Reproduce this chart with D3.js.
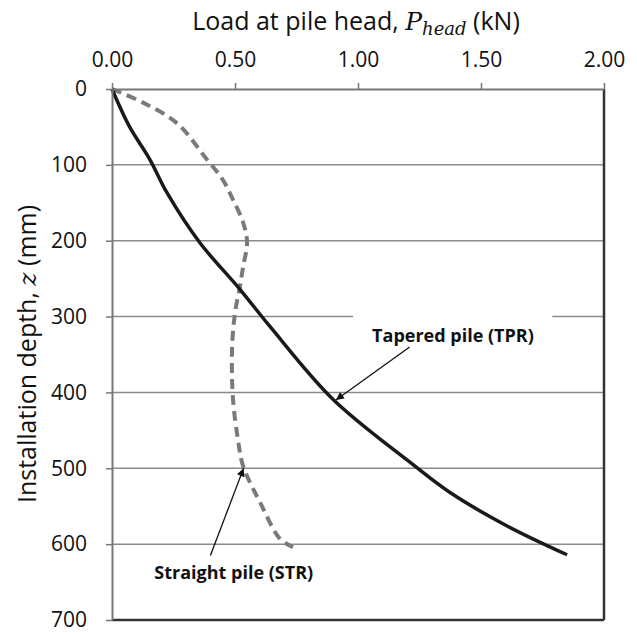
<!DOCTYPE html>
<html><head><meta charset="utf-8">
<script src="https://cdn.jsdelivr.net/npm/d3@7/dist/d3.min.js"></script>
<style>
  body { margin: 0; background: #fff; }
  svg { display: block; font-family: "Open Sans", sans-serif; }
  .tick text { font-size: 21px; fill: #111; }
</style>
</head>
<body>
<svg width="637" height="633"></svg>
<script>
// load (kN) vs installation depth (mm)
const tprLoad  = [0, 0.07, 0.154, 0.224, 0.358, 0.52, 0.642, 0.898, 1.211, 1.374, 1.606, 1.85];
const tprDepth = [0, 49, 93, 137, 203, 264, 313, 409, 492, 532, 576, 614];

const strLoad  = [0, 0.126, 0.264, 0.386, 0.451, 0.492, 0.533, 0.549, 0.533, 0.52, 0.5, 0.488, 0.492, 0.512, 0.533, 0.602, 0.683, 0.736];
const strDepth = [0, 18, 45, 93, 120, 146, 176, 203, 234, 261, 295, 343, 409, 462, 497, 545, 593, 604];

const xTicks = [0, 0.5, 1, 1.5, 2];
const yTicks = [0, 100, 200, 300, 400, 500, 600, 700];

const margin = {top: 89, left: 112, right: 33, bottom: 13};
const W = 637 - margin.left - margin.right, H = 633 - margin.top - margin.bottom;

const svg = d3.select("svg");
const g = svg.append("g").attr("transform", `translate(${margin.left},${margin.top})`);

const x = d3.scaleLinear().domain([0, 2]).range([0, W]);
const y = d3.scaleLinear().domain([0, 700]).range([0, H]);

// gridlines
g.append("g").selectAll("line")
  .data(yTicks.filter(d => d > 0 && d < 700))
  .enter().append("line")
    .attr("x1", 0).attr("x2", W)
    .attr("y1", d => y(d)).attr("y2", d => y(d))
    .attr("stroke", "#8a8a8a").attr("stroke-width", 1.5);

// white box behind the TPR label breaks the 300 gridline
g.append("rect")
  .attr("x", x(0.98)).attr("y", y(290))
  .attr("width", x(0.81)).attr("height", y(50))
  .attr("fill", "#fff");

const line = d3.line().curve(d3.curveCatmullRom);

g.append("path")
  .datum(strLoad.map((v, i) => [x(v), y(strDepth[i])]))
  .attr("d", line)
  .attr("fill", "none")
  .attr("stroke", "#7a7a7a")
  .attr("stroke-width", 4)
  .attr("stroke-dasharray", "10,6");

g.append("path")
  .datum(tprLoad.map((v, i) => [x(v), y(tprDepth[i])]))
  .attr("d", line)
  .attr("fill", "none")
  .attr("stroke", "#1a1a1a")
  .attr("stroke-width", 3.5);

// frame: bottom and right darker
g.append("line").attr("x1", 0).attr("x2", W).attr("y1", H).attr("y2", H)
  .attr("stroke", "#333").attr("stroke-width", 2.5);
g.append("line").attr("x1", W).attr("x2", W).attr("y1", 0).attr("y2", H)
  .attr("stroke", "#333").attr("stroke-width", 2.5);

// axes
const xAxis = g.append("g")
  .call(d3.axisTop(x).tickValues(xTicks).tickFormat(d3.format(".2f")).tickSize(6).tickSizeOuter(0).tickPadding(16));
const yAxis = g.append("g")
  .call(d3.axisLeft(y).tickValues(yTicks).tickSize(6).tickSizeOuter(0).tickPadding(19));
[xAxis, yAxis].forEach(a => {
  a.select(".domain").attr("stroke", "#777").attr("stroke-width", 2);
  a.selectAll(".tick line").attr("stroke", "#777").attr("stroke-width", 1.5);
  a.attr("font-family", null).attr("font-size", null);
});

// titles
const title = svg.append("text")
  .attr("x", 356).attr("y", 30)
  .attr("text-anchor", "middle")
  .attr("font-size", 25).attr("fill", "#111");
title.append("tspan").text("Load at pile head, ");
title.append("tspan").text("P").attr("font-family", "DejaVu Serif, serif").attr("font-style", "italic");
title.append("tspan").text("head").attr("font-family", "DejaVu Serif, serif").attr("font-style", "italic")
  .attr("font-size", 18).attr("dy", 5);
title.append("tspan").text(" (kN)").attr("dy", -5);

const ylab = svg.append("text")
  .attr("transform", "translate(36,354) rotate(-90)")
  .attr("text-anchor", "middle")
  .attr("font-size", 25).attr("fill", "#111");
ylab.append("tspan").text("Installation depth, ");
ylab.append("tspan").text("z").attr("font-family", "DejaVu Serif, serif").attr("font-style", "italic");
ylab.append("tspan").text(" (mm)");

// annotations
svg.append("defs").append("marker")
  .attr("id", "ah").attr("viewBox", "0 0 10 10")
  .attr("refX", 10).attr("refY", 5)
  .attr("markerWidth", 11).attr("markerHeight", 8)
  .attr("markerUnits", "userSpaceOnUse")
  .attr("orient", "auto")
  .append("path").attr("d", "M0,0 L10,5 L0,10 Z").attr("fill", "#111");

const notes = [
  {text: "Tapered pile (TPR)", tx: 1.386, ty: 333, ax: 1.21, ay: 340, px: 0.91, py: 410},
  {text: "Straight pile (STR)", tx: 0.495, ty: 646, ax: 0.4, ay: 615, px: 0.535, py: 500}
];
notes.forEach(n => {
  g.append("line")
    .attr("x1", x(n.ax)).attr("y1", y(n.ay))
    .attr("x2", x(n.px)).attr("y2", y(n.py))
    .attr("stroke", "#111").attr("stroke-width", 1.3)
    .attr("marker-end", "url(#ah)");
  g.append("text")
    .attr("x", x(n.tx)).attr("y", y(n.ty))
    .attr("text-anchor", "middle")
    .attr("font-size", 18).attr("font-weight", "bold").attr("fill", "#111")
    .text(n.text);
});
</script>
</body></html>
